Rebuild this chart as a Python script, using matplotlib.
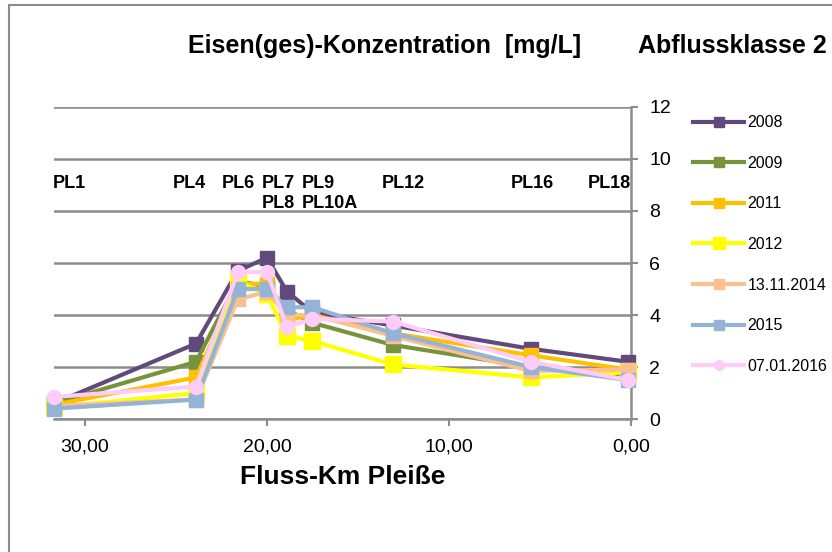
import matplotlib
matplotlib.use("Agg")
import matplotlib.pyplot as plt
from matplotlib.ticker import FuncFormatter

plt.rcParams['font.family'] = ['Liberation Sans', 'DejaVu Sans']

# Messstellen an der Pleiße (Fluss-Km)
stations = ["PL1", "PL4", "PL6", "PL7", "PL8", "PL9", "PL12", "PL16", "PL18"]
km = [31.7, 23.9, 21.6, 20.0, 18.9, 17.5, 13.1, 5.5, 0.15]

fe_2008 = [0.6, 2.9, 5.7, 6.2, 4.9, 4.1, 3.6, 2.7, 2.2]
fe_2009 = [0.6, 2.2, 5.3, 5.1, 4.2, 3.7, 2.85, 2.0, 1.7]
fe_2011 = [0.55, 1.6, 5.2, 5.2, 3.8, 4.0, 3.3, 2.45, 1.9]
fe_2012 = [0.45, 1.0, 5.3, 4.8, 3.2, 3.0, 2.1, 1.6, 1.8]
fe_2014 = [0.5, 0.75, 4.6, 4.9, 4.0, 4.0, 3.2, 1.85, 1.9]
fe_2015 = [0.4, 0.75, 5.0, 5.0, 4.3, 4.3, 3.3, 2.0, 1.5]
fe_2016 = [0.85, 1.25, 5.65, 5.65, 3.55, 3.85, 3.75, 2.2, 1.5]

labels = ["2008", "2009", "2011", "2012", "13.11.2014", "2015", "07.01.2016"]
colors = ["#604a7b", "#77933c", "#ffc000", "#ffff00", "#fac090", "#95b3d7", "#ffccf8"]

# Beschriftung der Messstellen oberhalb der Kurven
pl_row1 = ["PL1", "PL4", "PL6", "PL7", "PL9", "PL12", "PL16", "PL18"]
pl_row1_x = [31.75, 25.2, 22.5, 20.3, 18.1, 13.7, 6.6, 2.35]
pl_row2 = ["PL8", "PL10A"]
pl_row2_x = [20.3, 18.1]

fig = plt.figure(figsize=(8.32, 5.52), dpi=100)
ax = fig.add_axes([0.0649, 0.2409, 0.6935, 0.5653])

series = [fe_2008, fe_2009, fe_2011, fe_2012, fe_2014, fe_2015, fe_2016]
for vals, lab, col in zip(series, labels, colors):
    if lab == "07.01.2016":
        mk, ms = "o", 10
    elif lab == "2012":
        mk, ms = "s", 12
    else:
        mk, ms = "s", 9.5
    ax.plot(km, vals, color=col, lw=3, marker=mk, ms=ms, mfc=col, mec=col,
            label=lab, zorder=3, clip_on=False)

for t, x in zip(pl_row1, pl_row1_x):
    ax.text(x, 9.05, t, ha="left", va="center", fontsize=13, fontweight="bold")
for t, x in zip(pl_row2, pl_row2_x):
    ax.text(x, 8.27, t, ha="left", va="center", fontsize=13, fontweight="bold")

ax.set_xlim(31.7, 0)
ax.set_ylim(0, 12)
ax.set_xticks([30, 20, 10, 0])
ax.xaxis.set_major_formatter(FuncFormatter(lambda v, p: f"{v:.2f}".replace(".", ",")))
ax.set_yticks(range(0, 13, 2))
ax.yaxis.tick_right()
ax.grid(axis="y", color="#8c8c8c", lw=1.8)
ax.set_axisbelow(True)

for s in ["top", "left"]:
    ax.spines[s].set_visible(False)
for s in ["bottom", "right"]:
    ax.spines[s].set_color("#8c8c8c")
    ax.spines[s].set_linewidth(1.8)
ax.tick_params(axis="both", colors="#8c8c8c", labelcolor="black", labelsize=14,
               width=1.5, length=5)
ax.tick_params(axis="y", pad=8)
ax.tick_params(axis="x", pad=9)

ax.set_xlabel("Fluss-Km Pleiße", fontsize=19, fontweight="bold", labelpad=7)

fig.text(0.462, 0.904, "Eisen(ges)-Konzentration  [mg/L]", ha="center", va="baseline",
         fontsize=18, fontweight="bold")
fig.text(0.767, 0.904, "Abflussklasse 2", ha="left", va="baseline",
         fontsize=18, fontweight="bold")

ax.legend(loc="upper left", bbox_to_anchor=(0.833, 0.791), bbox_transform=fig.transFigure,
          frameon=False, fontsize=11.5, handlelength=3.2, handletextpad=0.2,
          labelspacing=1.6, borderpad=0, borderaxespad=0, markerscale=0.7)

# Rahmen des Diagrammbereichs (links und oben sichtbar)
fig.patches.append(plt.Rectangle((9 / 832, -0.05), 1.2, 1.05 - 5 / 552,
                                 transform=fig.transFigure, fill=False,
                                 edgecolor="#8c8c8c", lw=1.5))

fig.savefig("out.png", dpi=100)
